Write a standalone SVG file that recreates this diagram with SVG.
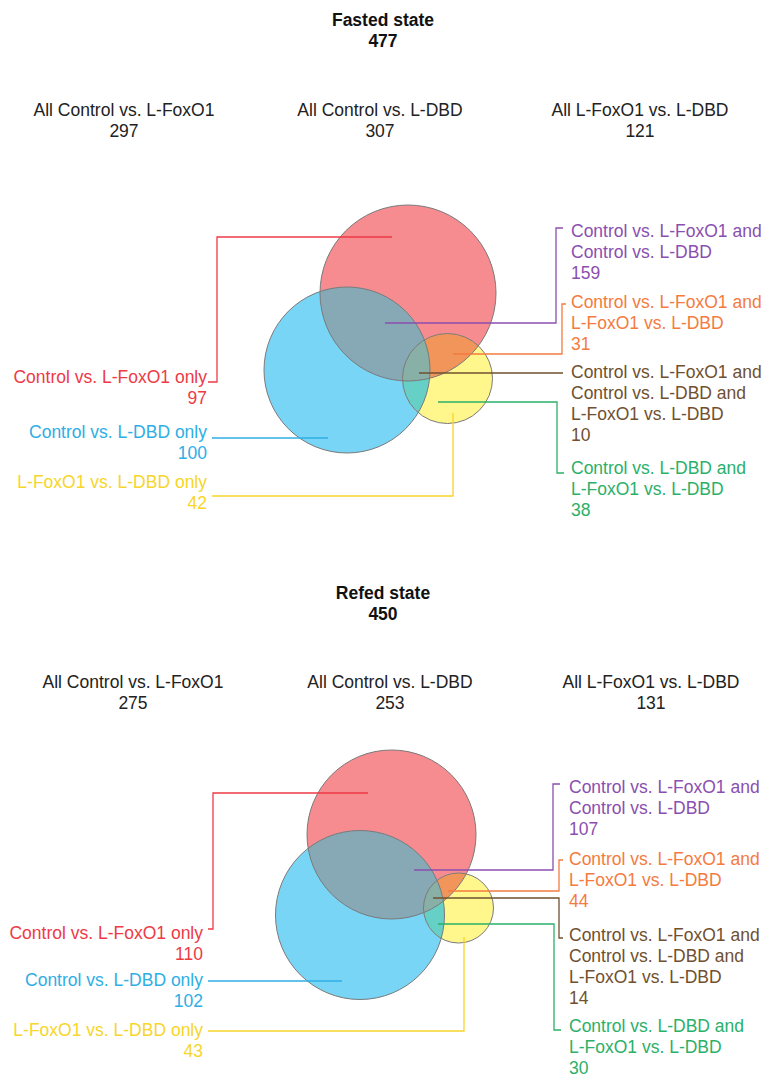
<svg xmlns="http://www.w3.org/2000/svg" width="770" height="1076" viewBox="0 0 770 1076">
<style>
text{font-family:"Liberation Sans",Arial,Helvetica,sans-serif;font-size:17.5px}
.t{font-weight:bold;text-anchor:middle;fill:#111}
.h{text-anchor:middle;fill:#222}
.r{text-anchor:end}
.outl{fill:none;stroke:#7a7a7a;stroke-width:1}
.ln{fill:none;stroke-width:1.3}
.cR{fill:#ee3a45}.sR{stroke:#ee3a45}
.cB{fill:#2eaee5}.sB{stroke:#2eaee5}
.cY{fill:#f7d52a}.sY{stroke:#f7d52a}
.cP{fill:#8a4fb0}.sP{stroke:#8a4fb0}
.cO{fill:#f47b40}.sO{stroke:#f47b40}
.cN{fill:#70502f}.sN{stroke:#70502f}
.cG{fill:#2bb069}.sG{stroke:#2bb069}
.fR{fill:#f68b90}.fB{fill:#78d5f5}.fY{fill:#fff68c}
.fRB{fill:#86a9b5}.fRY{fill:#f2955a}.fBY{fill:#66cfc6}.fRBY{fill:#89b0a6}
</style>
<defs>
<clipPath id="cpR1"><circle cx="408" cy="293" r="88"/></clipPath>
<clipPath id="cpB1"><circle cx="347" cy="370" r="83"/></clipPath>
<clipPath id="cpR2"><circle cx="391.5" cy="834.5" r="84.5"/></clipPath>
<clipPath id="cpB2"><circle cx="360" cy="915" r="84.5"/></clipPath>
</defs>

<!-- Fasted titles -->
<g id="fasted-title"><text class="t" x="383" y="26">Fasted state</text><text class="t" x="383" y="47">477</text></g>
<g id="fasted-h1"><text class="h" x="124" y="116">All Control vs. L-FoxO1</text><text class="h" x="124" y="137">297</text></g>
<g id="fasted-h2"><text class="h" x="380" y="116">All Control vs. L-DBD</text><text class="h" x="380" y="137">307</text></g>
<g id="fasted-h3"><text class="h" x="640" y="116">All L-FoxO1 vs. L-DBD</text><text class="h" x="640" y="137">121</text></g>

<!-- Fasted venn -->
<g id="fasted-venn">
<circle class="fR" cx="408" cy="293" r="88"/>
<circle class="fB" cx="347" cy="370" r="83"/>
<circle class="fY" cx="447.5" cy="378.5" r="45"/>
<circle class="fRB" cx="347" cy="370" r="83" clip-path="url(#cpR1)"/>
<circle class="fRY" cx="447.5" cy="378.5" r="45" clip-path="url(#cpR1)"/>
<circle class="fBY" cx="447.5" cy="378.5" r="45" clip-path="url(#cpB1)"/>
<g clip-path="url(#cpB1)"><circle class="fRBY" cx="447.5" cy="378.5" r="45" clip-path="url(#cpR1)"/></g>
<circle class="outl" cx="408" cy="293" r="88"/>
<circle class="outl" cx="347" cy="370" r="83"/>
<circle class="outl" cx="447.5" cy="378.5" r="45"/>
</g>

<g id="fasted-connectors">
<polyline class="ln sR" points="392,237 217,237 217,382 208,382"/>
<polyline class="ln sB" points="212,438 328,438"/>
<polyline class="ln sY" points="212,496 453,496 453,413"/>
<polyline class="ln sP" points="385,323 556,323 556,228 563,228"/>
<polyline class="ln sO" points="453,354 562,354 562,304 566,304"/>
<polyline class="ln sN" points="419,373 563,373"/>
<polyline class="ln sG" points="438,402 557,402 557,473 564,473"/>
</g>

<g id="fasted-l-red" class="cR"><text class="r" x="207" y="383">Control vs. L-FoxO1 only</text><text class="r" x="207" y="404">97</text></g>
<g id="fasted-l-blue" class="cB"><text class="r" x="207" y="438">Control vs. L-DBD only</text><text class="r" x="207" y="459">100</text></g>
<g id="fasted-l-yellow" class="cY"><text class="r" x="207" y="488">L-FoxO1 vs. L-DBD only</text><text class="r" x="207" y="509">42</text></g>
<g id="fasted-l-purple" class="cP"><text x="571" y="237">Control vs. L-FoxO1 and</text><text x="571" y="258">Control vs. L-DBD</text><text x="571" y="279">159</text></g>
<g id="fasted-l-orange" class="cO"><text x="571" y="308">Control vs. L-FoxO1 and</text><text x="571" y="329">L-FoxO1 vs. L-DBD</text><text x="571" y="350">31</text></g>
<g id="fasted-l-brown" class="cN"><text x="571" y="378">Control vs. L-FoxO1 and</text><text x="571" y="399">Control vs. L-DBD and</text><text x="571" y="420">L-FoxO1 vs. L-DBD</text><text x="571" y="441">10</text></g>
<g id="fasted-l-green" class="cG"><text x="571" y="474">Control vs. L-DBD and</text><text x="571" y="495">L-FoxO1 vs. L-DBD</text><text x="571" y="516">38</text></g>

<!-- Refed titles -->
<g id="refed-title"><text class="t" x="383" y="599">Refed state</text><text class="t" x="383" y="620">450</text></g>
<g id="refed-h1"><text class="h" x="133" y="688">All Control vs. L-FoxO1</text><text class="h" x="133" y="709">275</text></g>
<g id="refed-h2"><text class="h" x="390" y="688">All Control vs. L-DBD</text><text class="h" x="390" y="709">253</text></g>
<g id="refed-h3"><text class="h" x="651" y="688">All L-FoxO1 vs. L-DBD</text><text class="h" x="651" y="709">131</text></g>

<g id="refed-venn">
<circle class="fR" cx="391.5" cy="834.5" r="84.5"/>
<circle class="fB" cx="360" cy="915" r="84.5"/>
<circle class="fY" cx="458.5" cy="908" r="35"/>
<circle class="fRB" cx="360" cy="915" r="84.5" clip-path="url(#cpR2)"/>
<circle class="fRY" cx="458.5" cy="908" r="35" clip-path="url(#cpR2)"/>
<circle class="fBY" cx="458.5" cy="908" r="35" clip-path="url(#cpB2)"/>
<g clip-path="url(#cpB2)"><circle class="fRBY" cx="458.5" cy="908" r="35" clip-path="url(#cpR2)"/></g>
<circle class="outl" cx="391.5" cy="834.5" r="84.5"/>
<circle class="outl" cx="360" cy="915" r="84.5"/>
<circle class="outl" cx="458.5" cy="908" r="35"/>
</g>

<g id="refed-connectors">
<polyline class="ln sR" points="368,793 213,793 213,929 208,929"/>
<polyline class="ln sB" points="208,981 342,981"/>
<polyline class="ln sY" points="208,1031 464,1031 464,937"/>
<polyline class="ln sP" points="414,870 553,870 553,784 560,784"/>
<polyline class="ln sO" points="448,891 559,891 559,860 563,860"/>
<polyline class="ln sN" points="433,898 559,898 559,938 563,938"/>
<polyline class="ln sG" points="438,924 554,924 554,1030 561,1030"/>
</g>

<g id="refed-l-red" class="cR"><text class="r" x="203" y="939">Control vs. L-FoxO1 only</text><text class="r" x="203" y="960">110</text></g>
<g id="refed-l-blue" class="cB"><text class="r" x="203" y="986">Control vs. L-DBD only</text><text class="r" x="203" y="1007">102</text></g>
<g id="refed-l-yellow" class="cY"><text class="r" x="203" y="1036">L-FoxO1 vs. L-DBD only</text><text class="r" x="203" y="1057">43</text></g>
<g id="refed-l-purple" class="cP"><text x="569" y="793">Control vs. L-FoxO1 and</text><text x="569" y="814">Control vs. L-DBD</text><text x="569" y="835">107</text></g>
<g id="refed-l-orange" class="cO"><text x="569" y="865">Control vs. L-FoxO1 and</text><text x="569" y="886">L-FoxO1 vs. L-DBD</text><text x="569" y="907">44</text></g>
<g id="refed-l-brown" class="cN"><text x="569" y="941">Control vs. L-FoxO1 and</text><text x="569" y="962">Control vs. L-DBD and</text><text x="569" y="983">L-FoxO1 vs. L-DBD</text><text x="569" y="1004">14</text></g>
<g id="refed-l-green" class="cG"><text x="569" y="1032">Control vs. L-DBD and</text><text x="569" y="1053">L-FoxO1 vs. L-DBD</text><text x="569" y="1074">30</text></g>
</svg>
